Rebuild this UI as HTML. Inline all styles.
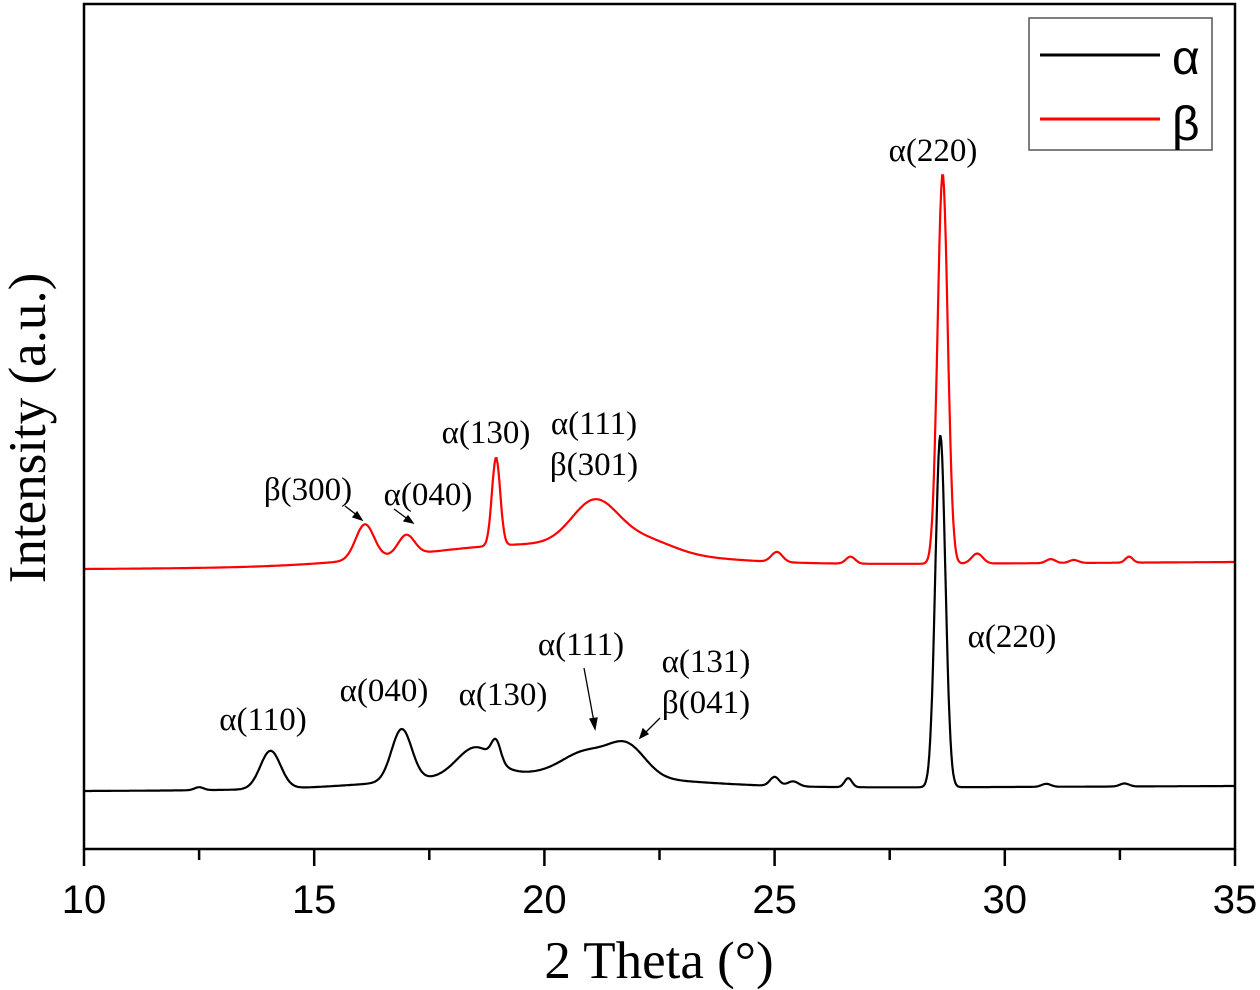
<!DOCTYPE html>
<html><head><meta charset="utf-8"><style>
body{margin:0;background:#fff;width:1260px;height:990px;overflow:hidden}
svg{display:block}
.ann{font-family:"Liberation Serif",serif;font-size:33px;fill:#000}
</style></head><body>
<svg id="chart" width="1260" height="990" viewBox="0 0 1260 990" xmlns="http://www.w3.org/2000/svg">
<g id="plot"></g>
<rect x="84" y="4" width="1151" height="845" fill="none" stroke="#000" stroke-width="2.5"/>
<g id="xticks"></g>
<text x="659" y="978" text-anchor="middle" font-family="Liberation Serif,serif" font-size="53">2 Theta (°)</text>
<text transform="translate(45,428) rotate(-90)" text-anchor="middle" font-family="Liberation Serif,serif" font-size="53">Intensity (a.u.)</text>
<g>
<rect x="1029" y="18" width="183" height="132" fill="#fff" stroke="#555" stroke-width="1.5"/>
<line x1="1040" y1="55" x2="1160" y2="55" stroke="#000" stroke-width="3"/>
<text x="1172" y="74" font-family="Liberation Sans,sans-serif" font-size="48">α</text>
<line x1="1040" y1="119" x2="1160" y2="119" stroke="#f00" stroke-width="3"/>
<text x="1172" y="140" font-family="Liberation Sans,sans-serif" font-size="48">β</text>
</g>
<g>
<text class="ann" x="933" y="161" text-anchor="middle">α(220)</text>
<text class="ann" x="486" y="443" text-anchor="middle">α(130)</text>
<text class="ann" x="594" y="434" text-anchor="middle">α(111)</text>
<text class="ann" x="594" y="475" text-anchor="middle">β(301)</text>
<text class="ann" x="308" y="500" text-anchor="middle">β(300)</text>
<text class="ann" x="428" y="505" text-anchor="middle">α(040)</text>
<text class="ann" x="1012" y="647" text-anchor="middle">α(220)</text>
<text class="ann" x="263" y="730" text-anchor="middle">α(110)</text>
<text class="ann" x="384" y="701" text-anchor="middle">α(040)</text>
<text class="ann" x="503" y="705" text-anchor="middle">α(130)</text>
<text class="ann" x="581" y="655" text-anchor="middle">α(111)</text>
<text class="ann" x="706" y="672" text-anchor="middle">α(131)</text>
<text class="ann" x="706" y="713" text-anchor="middle">β(041)</text>
<g stroke="#000" stroke-width="1.3" fill="#000">
<line x1="345" y1="506" x2="358" y2="516"/><polygon points="362,520 353,517 357,512"/>
<line x1="394" y1="509" x2="409" y2="520"/><polygon points="413,523 404,521 408,516"/>
<line x1="584" y1="668" x2="594" y2="722"/><polygon points="595,729 590,719 597,718"/>
<line x1="660" y1="718" x2="645" y2="733"/><polygon points="640,738 643,729 648,734"/>
</g>
</g>
</svg>
<script>
// Data (intensity units, 1 unit = 1 px above x-axis)
const alphaPeakPos = [12.5, 14.05, 16.9, 18.5, 18.95, 20.9, 21.8, 25.0, 25.4, 26.6, 28.6, 30.9, 32.6];
const alphaPeakHeight = [3, 38, 52, 28, 20, 22, 30, 9, 5, 9, 352, 3, 3];
const alphaPeakWidth = [0.1, 0.22, 0.22, 0.4, 0.1, 0.5, 0.4, 0.1, 0.12, 0.08, 0.11, 0.1, 0.1];
const alphaBase = [58, 63];
const alphaHump = 16;
const betaPeakPos = [16.1, 17.0, 18.95, 21.1, 22.2, 25.05, 26.65, 28.65, 29.4, 31.0, 31.5, 32.7];
const betaPeakHeight = [35, 20, 88, 45, 12, 10, 7, 390, 10, 4, 3, 6];
const betaPeakWidth = [0.2, 0.18, 0.09, 0.5, 0.6, 0.12, 0.1, 0.11, 0.12, 0.1, 0.1, 0.08];
const betaBase = [280, 287];
const betaHump = 22;
const xTicks = [10, 15, 20, 25, 30, 35];

const X0 = 84, X1 = 1235, Y0 = 849;
const xs = v => X0 + (v - 10) / 25 * (X1 - X0);
const ys = v => Y0 - v;

function intensity(t, base, hump, pos, h, w) {
  let v = base[0] + (base[1] - base[0]) * (t - 10) / 25;
  v += hump * Math.exp(-Math.pow(t - 19.8, 2) / (2 * 2.6 * 2.6));
  for (let i = 0; i < pos.length; i++) v += h[i] * Math.exp(-Math.pow(t - pos[i], 2) / (2 * w[i] * w[i]));
  return v;
}
function path(base, hump, pos, h, w) {
  let d = '';
  for (let t = 10; t <= 35.0001; t += 0.02) {
    d += (d ? 'L' : 'M') + xs(t).toFixed(1) + ',' + ys(intensity(t, base, hump, pos, h, w)).toFixed(1);
  }
  return d;
}
const NS = 'http://www.w3.org/2000/svg';
const plot = document.getElementById('plot');
const a = document.createElementNS(NS, 'path');
a.setAttribute('d', path(alphaBase, alphaHump, alphaPeakPos, alphaPeakHeight, alphaPeakWidth));
a.setAttribute('fill', 'none'); a.setAttribute('stroke', '#000'); a.setAttribute('stroke-width', '2.2');


plot.appendChild(a);
const b = document.createElementNS(NS, 'path');
b.setAttribute('d', path(betaBase, betaHump, betaPeakPos, betaPeakHeight, betaPeakWidth));
b.setAttribute('fill', 'none'); b.setAttribute('stroke', '#f00'); b.setAttribute('stroke-width', '2.2');


plot.appendChild(b);

const xt = document.getElementById('xticks');
for (let v = 10; v <= 35; v += 2.5) {
  const major = xTicks.includes(v);
  const l = document.createElementNS(NS, 'line');
  l.setAttribute('x1', xs(v)); l.setAttribute('x2', xs(v));
  l.setAttribute('y1', Y0); l.setAttribute('y2', Y0 + (major ? 17 : 11));
  l.setAttribute('stroke', '#000'); l.setAttribute('stroke-width', '2.5');
  
  
  xt.appendChild(l);
}
xTicks.forEach(v => {
  const t = document.createElementNS(NS, 'text');
  t.setAttribute('x', xs(v)); t.setAttribute('y', 913);
  t.setAttribute('text-anchor', 'middle');
  t.setAttribute('font-family', 'Liberation Sans,sans-serif');
  t.setAttribute('font-size', '40');
  t.textContent = v;
  
  
  xt.appendChild(t);
});
</script>
</body></html>
